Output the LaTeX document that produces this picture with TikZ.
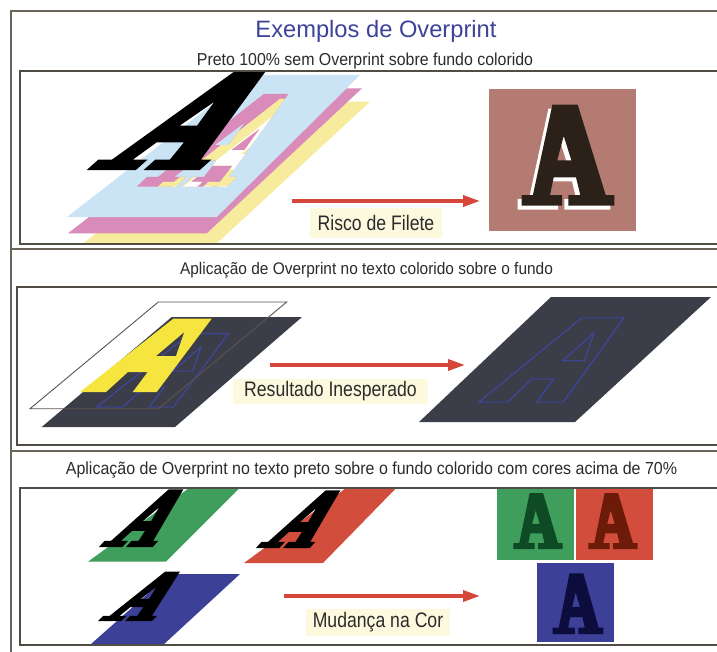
\documentclass[tikz,border=0pt]{standalone}
\usepackage{fontspec}
\setmainfont{Liberation Sans}
\newfontfamily\subfont[FakeStretch=0.92]{Liberation Sans}
\newfontfamily\labfont[FakeStretch=0.84]{Liberation Sans}
\usetikzlibrary{arrows.meta}
\definecolor{cyanL}{HTML}{CBE4F5}
\definecolor{pinkL}{HTML}{D98CB9}
\definecolor{yellowL}{HTML}{F7EC9D}
\definecolor{brownbg}{HTML}{B37B71}
\definecolor{darkA}{HTML}{2C2119}
\definecolor{plate}{HTML}{3B3E48}
\definecolor{yelA}{HTML}{F5E53E}
\definecolor{blueL}{HTML}{4048C0}
\definecolor{greenP}{HTML}{3F9E5B}
\definecolor{redP}{HTML}{D34D3C}
\definecolor{blueP}{HTML}{3D4097}
\definecolor{dkgreen}{HTML}{0E4A24}
\definecolor{dkred}{HTML}{6B1B08}
\definecolor{navy}{HTML}{0C0C3D}
\definecolor{labelbg}{HTML}{FCF9DF}
\definecolor{arrowred}{HTML}{D4473A}
\definecolor{titleblue}{HTML}{3C4399}
\definecolor{textc}{HTML}{2B2B2B}
\definecolor{framec}{HTML}{6B645B}
\definecolor{boxc}{HTML}{524C46}
\definecolor{sheetc}{HTML}{5E544E}
% slab serif A, origin bottom-left, y-down picture coordinates
\newcommand{\slabA}[1]{\path[even odd rule,#1] (0,0) -- (40.3,0) -- (40.3,-10.7) -- (28.3,-10.7) -- (32,-28.3) -- (54.3,-28.3) -- (58.6,-10.7) -- (46.7,-10.7) -- (46.7,0) -- (92.7,0) -- (92.7,-10.7) -- (84,-10.7) -- (56,-101) -- (30.7,-101) -- (11.2,-10.7) -- (0,-10.7) -- cycle (42,-69.7) -- (35.5,-45.3) -- (49.7,-45.3) -- cycle;}
\newcommand{\slabAclip}[1]{\path[clip,#1] (0,0) -- (40.3,0) -- (40.3,-10.7) -- (28.3,-10.7) -- (32,-28.3) -- (54.3,-28.3) -- (58.6,-10.7) -- (46.7,-10.7) -- (46.7,0) -- (92.7,0) -- (92.7,-10.7) -- (84,-10.7) -- (56,-101) -- (30.7,-101) -- (11.2,-10.7) -- (0,-10.7) -- cycle (42,-69.7) -- (35.5,-45.3) -- (49.7,-45.3) -- cycle;}
% slanted sans A
\newcommand{\sansA}[1]{\path[even odd rule,#1] (0,0) -- (26,0) -- (48,-20) -- (67.7,-20) -- (52.7,0) -- (76.7,0) -- (131.7,-73.3) -- (93.3,-73.3) -- cycle (104.3,-60) -- (76,-36) -- (96,-36) -- cycle;}
\tikzset{
  outerline/.style={draw=framec, line width=1.8pt},
  boxline/.style={draw=boxc, line width=1.4pt},
  titletext/.style={text=titleblue, font=\fontsize{23.7}{26}\selectfont, inner sep=0pt},
  subtext/.style={text=textc, inner sep=0pt},
  labelbox/.style={fill=labelbg, text=textc, inner sep=0pt, font=\labfont\fontsize{21}{24}\selectfont},
  redarrow/.style={draw=arrowred, line width=3.4pt, -{Triangle[length=17pt,width=11pt]}},
  sheetline/.style={draw=sheetc, line width=0.9pt},
  blueoutline/.style={draw=blueL, line width=0.8pt}
}
\begin{document}
\begin{tikzpicture}[x=1pt,y=-1pt]
\useasboundingbox (0,0) rectangle (717,651);
\clip (0,0) rectangle (717,651);
\fill[white] (0,0) rectangle (717,651);

% ---------- titles ----------
\node[titletext, anchor=base] (title) at (376,37) {Exemplos de Overprint};
\node[subtext, anchor=base, font=\subfont\fontsize{17.3}{20}\selectfont] (sub1) at (365,65) {Preto 100\% sem Overprint sobre fundo colorido};
\node[subtext, anchor=base, font=\subfont\fontsize{16.8}{20}\selectfont] (sub2) at (366.5,274) {Aplicação de Overprint no texto colorido sobre o fundo};
\node[subtext, anchor=base, font=\subfont\fontsize{17.4}{20}\selectfont] (sub3) at (371.5,474) {Aplicação de Overprint no texto preto sobre o fundo colorido com cores acima de 70\%};

% ---------- section 1 ----------
\begin{scope}
\clip (20,71) rectangle (717,244);
\fill[yellowL] (80,246) -- (214,246) -- (370,101.7) -- (262.7,101.7) -- cycle;
\fill[pinkL] (68,233.3) -- (206.7,233.3) -- (362,88.3) -- (255,88.3) -- cycle;
\fill[cyanL] (67,217) -- (216.7,217) -- (360,75) -- (250,75) -- cycle;
\slabA{fill=pinkL, shift={(136.7,186.7)}, xslant=1.05, xscale=0.97, yscale=0.92}
\begin{scope}[even odd rule]
\slabAclip{shift={(136.7,186.7)}, xslant=1.05, xscale=0.97, yscale=0.92}
\slabA{fill=yellowL, shift={(152.7,191.7)}, xslant=1.05, xscale=0.97, yscale=0.92}
\slabAclip{shift={(152.7,191.7)}, xslant=1.05, xscale=0.97, yscale=0.92}
\slabA{fill=white, shift={(162.7,195.7)}, xslant=1.05, xscale=0.97, yscale=0.92}
\end{scope}
\slabA{fill=black, shift={(86.7,170)}, xslant=1.12, xscale=1.22, yscale=0.98}
\end{scope}
% result
\fill[brownbg] (489,89) rectangle (636,231);
\slabA{fill=white, shift={(517.7,209.7)}}
\slabA{fill=darkA, shift={(521.7,205.7)}}
\coordinate (a1s) at (292,201);
\coordinate (a1e) at (480,201);
\draw[redarrow] (a1s) -- (a1e);
\node[labelbox, minimum width=132pt, minimum height=30pt] (lab1) at (376,223) {Risco de Filete};

% ---------- section 2 ----------
\fill[white] (158.3,302) -- (286.7,302) -- (158.3,408.7) -- (30,408.7) -- cycle;
\fill[plate] (171.7,317) -- (302,317) -- (175,427) -- (41.7,427) -- cycle;
\sansA{blueoutline, shift={(96.7,407)}}
\sansA{fill=yelA, shift={(80,392)}}
\draw[sheetline] (158.3,302) -- (286.7,302) -- (158.3,408.7) -- (30,408.7) -- cycle;
\fill[plate] (551,297) -- (711,297) -- (575,422) -- (419,422) -- cycle;
\sansA{blueoutline, shift={(479,402)}, xscale=1.1, yscale=1.146}
\coordinate (a2s) at (270,365);
\coordinate (a2e) at (465,365);
\draw[redarrow] (a2s) -- (a2e);
\node[labelbox, minimum width=195pt, minimum height=25pt] (lab2) at (330.5,391.5) {Resultado Inesperado};

% ---------- section 3 ----------
\begin{scope}
\clip (20,488) rectangle (717,645);
\fill[greenP] (88,561.7) -- (166,561.7) -- (247.7,480) -- (200,480) -- cycle;
\fill[redP] (244,563) -- (323,563) -- (404,480) -- (357,480) -- cycle;
\fill[blueP] (170,574) -- (240,574) -- (155.5,652) -- (82,652) -- cycle;
\slabA{fill=black, shift={(99,547)}, xslant=0.9, xscale=0.58, yscale=0.57}
\slabA{fill=black, shift={(256,548)}, xslant=0.9, xscale=0.58, yscale=0.57}
\slabA{fill=black, shift={(98,621)}, xslant=1.0, xscale=0.58, yscale=0.49}
\end{scope}
\fill[greenP] (497.3,488) rectangle (574,560);
\fill[redP] (575.7,488) rectangle (652.7,560);
\fill[blueP] (537.3,563.3) rectangle (614.3,642);
\slabA{fill=dkgreen, shift={(513.3,549)}, xscale=0.532, yscale=0.554}
\slabA{fill=dkred, shift={(588.3,549)}, xscale=0.532, yscale=0.554}
\slabA{fill=navy, shift={(552.7,634)}, xscale=0.547, yscale=0.6}
\coordinate (a3s) at (284,596);
\coordinate (a3e) at (480,596);
\draw[redarrow] (a3s) -- (a3e);
\node[labelbox, minimum width=144pt, minimum height=27pt] (lab3) at (378,622.5) {Mudança na Cor};

% ---------- frames ----------
\draw[outerline] (11,660) -- (11,11) -- (730,11);
\draw[outerline] (11,249) -- (730,249);
\draw[outerline] (11,451) -- (730,451);
\draw[boxline] (20,71) rectangle (730,244);
\draw[boxline] (17,287) rectangle (730,445);
\draw[boxline] (20,488) rectangle (730,645);
\end{tikzpicture}
\end{document}
